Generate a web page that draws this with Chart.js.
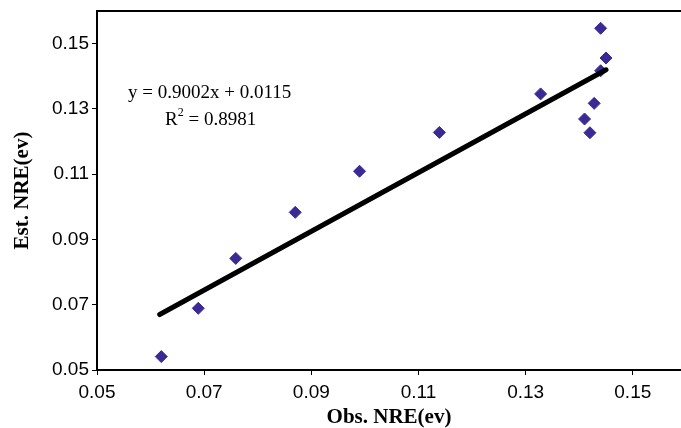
<!DOCTYPE html>
<html>
<head>
<meta charset="utf-8">
<script src="https://cdn.jsdelivr.net/npm/chart.js@4.4.1/dist/chart.umd.min.js"></script>
<style>
    html, body { margin: 0; padding: 0; background: #fff; overflow: hidden; }
    #graphique { display: block; }
</style>
</head>
<body>
<canvas id="graphique" width="681" height="428"></canvas>
<script>
// Valeurs
const obsNRE = [0.0620, 0.0689, 0.0759, 0.0870, 0.0990, 0.1139, 0.1328, 0.1410, 0.1420, 0.1428, 0.1440, 0.1440, 0.1450]
const estNRE = [0.0541, 0.0689, 0.0842, 0.0983, 0.1109, 0.1228, 0.1346, 0.1269, 0.1227, 0.1317, 0.1417, 0.1547, 0.1456]
const trendX = [0.0617, 0.1450]
const trendY = [0.0670, 0.1420]
const tickValues = [0.05, 0.07, 0.09, 0.11, 0.13, 0.15]
const equation = "y = 0.9002x + 0.0115"
const r2 = "0.8981"

const points = obsNRE.map((x, i) => ({x: x, y: estNRE[i]}))
const trend = trendX.map((x, i) => ({x: x, y: trendY[i]}))

// Bord supérieur de la zone de tracé (le bord droit est coupé dans l'original)
const cadre = {
    id: "cadre",
    beforeDatasetsDraw(chart) {
        const {ctx, chartArea} = chart
        ctx.save()
        ctx.strokeStyle = "#000"
        ctx.lineWidth = 2
        ctx.beginPath()
        ctx.moveTo(chartArea.left, chartArea.top)
        ctx.lineTo(chart.width, chartArea.top)
        ctx.stroke()
        ctx.restore()
    }
}

// Équation de la droite de tendance
const texteEquation = {
    id: "texteEquation",
    afterDatasetsDraw(chart) {
        const ctx = chart.ctx
        ctx.save()
        ctx.fillStyle = "#000"
        ctx.textBaseline = "alphabetic"
        ctx.font = "19px 'Liberation Serif'"
        ctx.fillText(equation, 128, 98)
        ctx.fillText("R", 165, 125)
        const wR = ctx.measureText("R").width
        ctx.font = "12px 'Liberation Serif'"
        ctx.fillText("2", 165 + wR, 116)
        const w2 = ctx.measureText("2").width
        ctx.font = "19px 'Liberation Serif'"
        ctx.fillText(" = " + r2, 165 + wR + w2, 125)
        ctx.restore()
    }
}

const tickFont = {family: "'Liberation Sans', Arial", size: 19}
const titleFont = {family: "'Liberation Serif', 'Times New Roman'", size: 21, weight: "bold", lineHeight: 1}

const config = {
    type: "scatter",
    data: {
        datasets: [{
            label: "Trend",
            type: "line",
            data: trend,
            borderColor: "#000",
            borderWidth: 5,
            borderCapStyle: "round",
            pointRadius: 0,
            fill: false,
        }, {
            label: "NRE",
            data: points,
            backgroundColor: "#3b2a96",
            borderColor: "#3b2a96",
            pointStyle: "rectRot",
            pointRadius: 6,
            pointHoverRadius: 6,
        }],
    },
    options: {
        responsive: false,
        animation: false,
        layout: {autoPadding: false, padding: {top: 11, right: 0, left: 0, bottom: 0}},
        plugins: {
            legend: {display: false},
            tooltip: {enabled: false},
        },
        scales: {
            x: {
                type: "linear",
                min: 0.05,
                max: 0.159,
                afterFit(scale) {
                    scale.height = 58
                    scale.paddingLeft = 0
                    scale.paddingRight = 0
                },
                afterBuildTicks(scale) {
                    scale.ticks = tickValues.map(v => ({value: v}))
                },
                ticks: {
                    color: "#000",
                    font: tickFont,
                    padding: 6,
                    maxRotation: 0,
                    callback: v => v.toFixed(2),
                },
                grid: {drawOnChartArea: false, color: "#000", tickLength: 5, tickWidth: 1},
                border: {color: "#000", width: 2},
                title: {display: true, text: "Obs. NRE(ev)", color: "#000", font: titleFont, padding: {top: -1, bottom: 0}},
            },
            y: {
                type: "linear",
                min: 0.05,
                max: 0.16,
                afterFit(scale) {
                    scale.width = 97
                    scale.paddingTop = 0
                    scale.paddingBottom = 0
                },
                afterBuildTicks(scale) {
                    scale.ticks = tickValues.map(v => ({value: v}))
                },
                ticks: {
                    color: "#000",
                    font: tickFont,
                    padding: 3,
                    callback: v => v.toFixed(2),
                },
                grid: {drawOnChartArea: false, color: "#000", tickLength: 5, tickWidth: 1},
                border: {color: "#000", width: 2},
                title: {display: true, text: "Est. NRE(ev)", color: "#000", font: titleFont, padding: {top: 12, bottom: 0}},
            },
        },
    },
    plugins: [cadre, texteEquation],
}

const graphique = new Chart(document.querySelector("#graphique"), config)
</script>
</body>
</html>
